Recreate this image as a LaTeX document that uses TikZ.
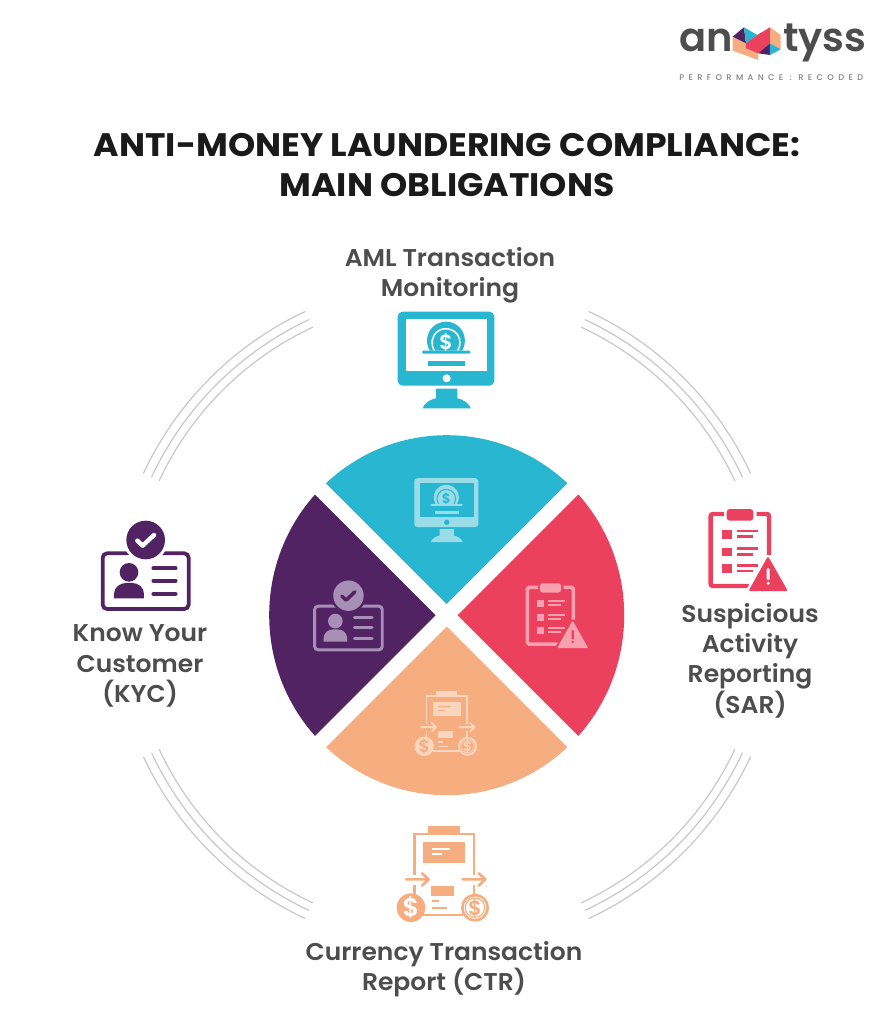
\documentclass[tikz,border=0pt]{standalone}
\usepackage{fontspec}
\setmainfont{Poppins}
\newfontfamily\labelfont[FakeStretch=1.03]{Poppins SemiBold}
\newfontfamily\glyphfont{Poppins SemiBold}
\newfontfamily\titlefont[FakeStretch=1.065]{Poppins Bold}
\newfontfamily\logofont{Poppins SemiBold}
\newfontfamily\tagfont[LetterSpace=53]{Poppins Medium}
\definecolor{teal}{HTML}{29B6D0}
\definecolor{plum}{HTML}{522363}
\definecolor{rose}{HTML}{EC415E}
\definecolor{peach}{HTML}{F6AE80}
\definecolor{tealL}{HTML}{9ADCE8}
\definecolor{plumL}{HTML}{A88FB8}
\definecolor{roseL}{HTML}{F8A0AE}
\definecolor{peachL}{HTML}{FBD6BF}
\definecolor{ink}{HTML}{4D4D4D}
\definecolor{titleink}{HTML}{1A1A1A}
\definecolor{ringgrey}{HTML}{C8C8C8}
\tikzset{
  lab/.style={text=ink,align=center,font=\labelfont\fontsize{18.2pt}{22.7pt}\selectfont},
  ttl/.style={text=titleink,align=center,font=\titlefont\fontsize{24.4pt}{29.3pt}\selectfont},
  ring/.style={draw=ringgrey,line width=0.9pt},
}
% origin x, origin y, scale, fg, bg
\newcommand\iconMon[5]{\begin{scope}[shift={(#1,#2)},scale=#3]
 \fill[#4,rounded corners=#3*11pt] (53,35) rectangle (343,257);
 \fill[#5] (77,58) rectangle (322,213);
 \fill[#5] (200,235) circle (12);
 \fill[#4] (168,266) -- (232,266) -- (232,295) .. controls (255,300) and (268,312) .. (272,325) -- (128,325) .. controls (132,312) and (145,300) .. (168,295) -- cycle;
 \fill[#4] (198,122) ++(148:57) arc (148:392:57) -- cycle;
 \draw[#5,line width={#3*3.5pt}] (198,128) ++(145:42) arc (145:395:42);
 \fill[#4,rounded corners=#3*3pt] (126,152) rectangle (272,161);
 \fill[#4] (145,183) rectangle (255,197);
 \node[text=#5,font=\glyphfont\fontsize{42pt}{42pt}\selectfont,scale=#3*1.1] (d#1) at (198,127) {\$};
\end{scope}}
\newcommand\iconClip[5]{\begin{scope}[shift={(#1,#2)},scale=#3]
 \draw[#4,line width={#3*10pt},rounded corners=#3*5pt] (102,42) -- (62,42) -- (62,258) -- (200,258);
 \draw[#4,line width={#3*10pt},rounded corners=#3*5pt] (200,42) -- (237,42) -- (237,165);
 \fill[#4,rounded corners=#3*7pt] (110,27) rectangle (190,62);
 \foreach \yy in {90,143,193} {\fill[#4] (97,\yy) rectangle (125,\yy+26);
   \draw[#4,line width={#3*5.5pt}] (142,\yy+3) -- (204,\yy+3) (142,\yy+20) -- (190,\yy+20);}
 \draw[#5,line width={#3*15pt},line join=round] (233,175) -- (180,270) -- (288,270) -- cycle;
 \filldraw[#4,line width={#3*5pt},line join=round] (234,175) -- (181,270) -- (288,270) -- cycle;
 \fill[#5,rounded corners=#3*2pt] (230,205) rectangle (239,240);
 \fill[#5] (234.5,250) circle (5);
\end{scope}}
\newcommand\iconCtr[5]{\begin{scope}[shift={(#1,#2)},scale=#3]
 \fill[#4] (143,18) rectangle (240,44);
 \draw[#4,line width={#3*6pt}] (103,165) -- (103,42) -- (282,42) -- (282,165);
 \fill[#4] (130,67) rectangle (255,128);
 \draw[#5,line width={#3*4.5pt}] (155,88) -- (210,88) (155,103) -- (185,103);
 \draw[#4,line width={#3*6pt},line cap=round,line join=round] (78,178) -- (146,178) (126,160) -- (146,178) -- (126,197);
 \draw[#4,line width={#3*6pt},line cap=round,line join=round] (248,178) -- (316,178) (296,160) -- (316,178) -- (296,197);
 \draw[#4,line width={#3*6pt}] (103,195) -- (103,230) (282,195) -- (282,230) (130,285) -- (250,285);
 \fill[#4] (153,197) rectangle (222,228);
 \draw[#4,line width={#3*5pt}] (155,243) -- (178,243) (155,263) -- (200,263);
 \fill[#4] (93,263) circle (43);
 \draw[#4,line width={#3*6pt}] (285,263) circle (38);
 \draw[#4,line width={#3*2.5pt}] (285,263) circle (29);
 \node[text=#5,font=\glyphfont\fontsize{52pt}{52pt}\selectfont,scale=#3*1.1] (dl#1) at (93,264) {\$};
 \node[text=#4,font=\glyphfont\fontsize{42pt}{42pt}\selectfont,scale=#3*1.1] (dr#1) at (285,264) {\$};
\end{scope}}
\newcommand\iconKyc[5]{\begin{scope}[shift={(#1,#2)},scale=#3]
 \draw[#4,line width={#3*8.5pt},rounded corners=#3*10pt] (38,130) rectangle (296,297);
 \fill[#5] (167,90) circle (67);
 \fill[#4] (167,90) circle (58);
 \draw[#5,line width={#3*10pt},line cap=round,line join=round] (142,92) -- (158,107) -- (192,75);
 \fill[#4] (117,187) circle (28);
 \fill[#4] (72,265) -- (72,252) .. controls (72,232) and (90,219) .. (108,219) -- (127,219) .. controls (145,219) and (162,232) .. (162,252) -- (162,265) -- cycle;
 \draw[#4,line width={#3*8.5pt},line cap=round] (190,175) -- (257,175) (190,212) -- (257,212) (190,252) -- (257,252);
\end{scope}}
\begin{document}
\begin{tikzpicture}[x=.75pt,y=.75pt,yscale=-1]
\useasboundingbox (0,0) rectangle (890,1024);
\fill[white] (0,0) rectangle (890,1024);
% pie
\begin{scope}
 \clip (446.7,615.2) ellipse (177.5 and 180);
 \fill[teal] (446.7,604) -- (246.7,404) -- (646.7,404) -- cycle;
 \fill[peach] (446.7,626.6) -- (246.7,826.6) -- (646.7,826.6) -- cycle;
 \fill[plum] (435.7,615.2) -- (235.7,415.2) -- (235.7,815.2) -- cycle;
 \fill[rose] (457.7,615.2) -- (657.7,415.2) -- (657.7,815.2) -- cycle;
\end{scope}
% rings
\foreach \rr in {335,326,317.6}{
 \draw[ring] (447,615) ++(205:\rr) arc (205:245:\rr);
 \draw[ring] (447,615) ++(295:\rr) arc (295:335:\rr);
 \draw[ring] (447,615) ++(25:\rr) arc (25:65:\rr);
 \draw[ring] (447,615) ++(115:\rr) arc (115:155:\rr);
}
% icons
\iconMon{380}{300}{.3333}{teal}{white}
\iconMon{402.6}{470.4}{.2207}{tealL}{teal}
\iconClip{690}{500}{.3333}{rose}{white}
\iconClip{511}{576.2}{.2632}{roseL}{rose}
\iconCtr{380}{820}{.3333}{peach}{white}
\iconCtr{403.2}{686.9}{.226}{peachL}{peach}
\iconKyc{90}{510}{.3333}{plum}{white}
\iconKyc{304.7}{572.1}{.262}{plumL}{plum}
% text
\node[ttl] (title) at (447,165) {ANTI-MONEY LAUNDERING COMPLIANCE:\\MAIN OBLIGATIONS};
\node[lab] (aml) at (450,275) {AML Transaction\\Monitoring};
\node[lab] (sar) at (750,660.5) {Suspicious\\Activity\\Reporting\\(SAR)};
\node[lab] (kyc) at (140,666) {Know Your\\Customer\\(KYC)};
\node[lab] (ctr) at (444,969) {Currency Transaction\\Report (CTR)};
% logo
\node[text=ink,font=\logofont\fontsize{30pt}{30pt}\selectfont,anchor=base west,inner sep=0pt] (an) at (679,52) {an};
\node[text=ink,font=\logofont\fontsize{30pt}{30pt}\selectfont,anchor=base west,inner sep=0pt] (tyss) at (783,52) {tyss};
\node[text=ink!70,font=\tagfont\fontsize{6.2pt}{7pt}\selectfont,anchor=base west,inner sep=0pt] (tag) at (679,80) {PERFORMANCE : RECODED};
\begin{scope}[shift={(660,10)},scale=.3333]
 \fill[peach] (218,80) -- (218,122) -- (295,150) -- (295,115) -- (258,100) -- cycle;
 \fill[peach] (330,52) -- (362,75) -- (362,118) -- (330,100) -- cycle;
 \fill[plum] (218,80) -- (252,52) -- (258,100) -- cycle;
 \fill[teal] (252,52) -- (292,75) -- (258,100) -- cycle;
 \fill[rose] (258,100) -- (292,75) -- (330,52) -- (330,100) -- (295,130) -- (258,115) -- cycle;
 \fill[plum] (295,130) -- (330,100) -- (330,135) -- cycle;
 \fill[teal] (330,100) -- (362,118) -- (330,135) -- cycle;
\end{scope}
\end{tikzpicture}
\end{document}
